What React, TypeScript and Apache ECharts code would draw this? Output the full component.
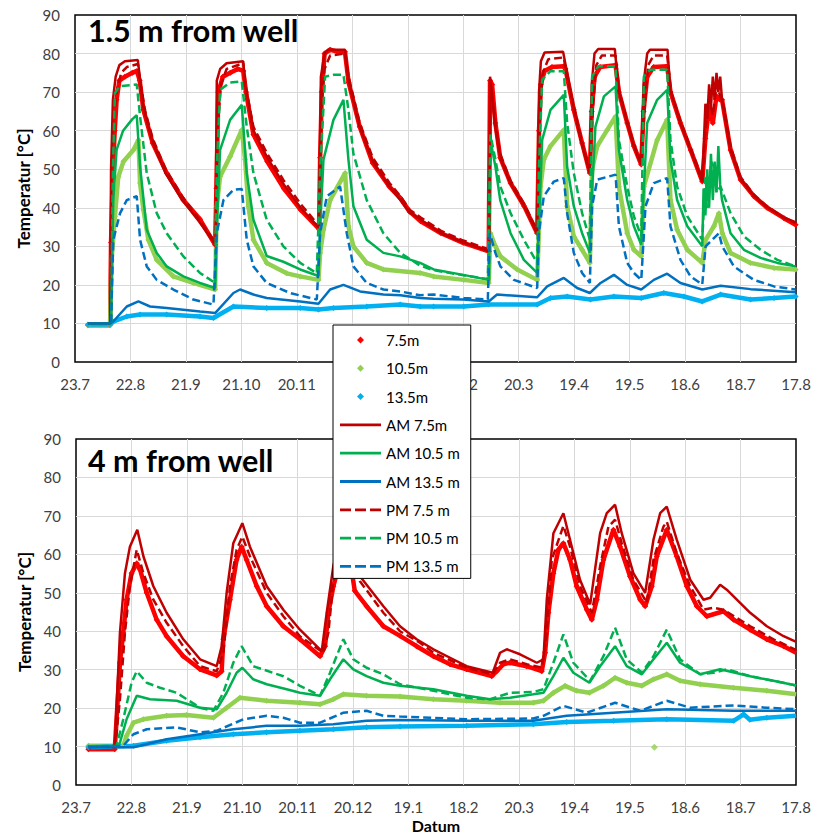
import React, { useEffect, useRef } from 'react';
import * as echarts from 'echarts';

// ---------- axis labels ----------
const xTickLabels = ['23.7', '22.8', '21.9', '21.10', '20.11', '20.12', '19.1', '18.2', '20.3', '19.4', '19.5', '18.6', '18.7', '17.8'];
// tick labels of the upper panel that the legend box covers completely
const topHiddenTicks = ['20.12', '19.1'];
const panelTitles = ['1.5 m from well', '4 m from well'];
const seriesNames = ['7.5m', '10.5m', '13.5m', 'AM 7.5m', 'AM 10.5 m', 'AM 13.5 m', 'PM 7.5 m', 'PM 10.5 m', 'PM 13.5 m'];

// x = days since 23.7 (one tick = 30 days), y = temperature °C
// ---------- TOP PANEL: 1.5 m from well ----------
const topMeas75 = [[7,9.5],[19,9.5],[19.5,31],[20.5,50],[21.5,60],[22.5,68],[24,73],[27,74],[31,75],[33.5,75.5],[35,73],[37,65.4],[42,56.8],[49.6,49],[58.6,42],[67.6,37],[75.8,30.4],
[76.5,45],[77.5,70],[80,74],[84,75],[88,76],[91,75.5],[92.5,70],[96.5,59],[104,52],[113,45],[122,39.5],[132,34.5],
[132.6,53],[133.5,70],[135,80],[138,81],[142,80.5],[146,80.5],[148,72.5],[154,61],[161,51.6],[170,45.5],[176,42.5],[181,39],[187,36.5],[198,33.4],[210,30.9],[223.8,28.7],
[224.5,73],[225.6,72],[227.4,62],[230,53],[235.6,46.4],[243,40.4],[250,33.4],
[251,60],[252,72],[254,75.5],[258,76.5],[264.4,76.7],[265.3,76],[269.8,65.4],[274.3,56.8],[278.5,49],
[279.5,65],[281,74],[284,76.5],[292.4,77],[294.2,70],[298.7,62],[302.3,56],[306.3,51.2],
[307.5,65],[309.5,74],[313,76.5],[320.3,76.7],[322.1,70],[327.5,62],[333,55],[339.3,46.8],
[341,58],[343,66],[345,62],[347,69],[349,68],[350,68],[354.6,55],[360,47.3],[367.2,43],[374.4,40],[383.5,37.3],[389.8,35.6]];

const topMeas105 = [[7,9.5],[19,9.5],[19.8,26.5],[21.6,37.8],[23.4,48],[26.2,52],[31.6,55],[34.3,57.6],[35.2,46.4],[37,39.5],[39.7,31.7],[44.2,26.5],[53.2,22.2],[64,20.5],[75.8,18.8],
[76.7,40.4],[78.5,48.1],[83.9,53.3],[90.2,60.2],[92,52.5],[93.8,40.4],[96.5,31.7],[103.7,25.7],[114.5,23],[121.8,22.2],[131.7,21.3],
[132.6,28.3],[134.4,34.3],[138,42],[146.1,49],[147.9,35.2],[150.6,30],[157.8,25.7],[166.8,24],[186.7,23.1],[194,22.2],[210.3,21.3],[223.8,20.5],
[224.7,33.4],[227.4,30],[230.1,27.4],[239.2,24],[250,21.3],
[251.8,45.5],[253.6,52.5],[257.2,56],[264.4,60.2],[266.2,40.4],[269.8,32.6],[274.3,29.1],[278.5,25.7],
[279.7,49.9],[282.5,56],[287.9,60.2],[292.4,63.7],[294.2,45.5],[298.7,33.4],[302.3,29.1],[306.3,27.4],
[307.7,45.5],[314.9,57.6],[320.3,62.8],[322.1,42],[325.7,34.3],[331.2,29.1],[339.3,25.7],
[341.1,31.7],[345.6,35.2],[348.3,38.6],[350.1,33.4],[354.6,28.3],[365.4,25.7],[378.1,24.4],[389.8,24]];

const topMeas135 = [[7,9.7],[18.9,9.7],[20.7,10.5],[28,11.8],[35.2,12.3],[49.6,12.3],[67.6,11.8],[74.9,11.4],[85.7,14.4],[103.7,14],[121.8,14],[131.7,13.6],[139.8,14],[157.8,14.4],[175.9,14.9],[186.7,14.4],[194,14.4],[210.3,14.4],[223.8,14.9],[250,14.9],[257.2,16.6],[266.2,17],[278.8,16.2],[291.5,17],[306.3,16.6],[318.5,17.9],[329.4,17],[339.3,15.7],[349.2,17.5],[365.4,16.2],[378.1,16.6],[389.8,17]];

const topAM75 = [[7,10],[19,10],[19.5,50],[20.5,68],[22,74],[24,77],[27,78],[34,78.3],[35,74],[37,66],[42,57],[49,49],[58,42],[67,36.5],[76,30.5],
[76.7,73],[78.5,76],[82,77.5],[91,78],[92,72],[96.5,60],[104,53],[113,46],[122,40],[132,34.7],
[133,74],[135,80],[137,81],[146,81],[148,73],[154,61],[161,52],[170,45.5],[176,42],[181,38.8],[187,36.9],[198,33.4],[210,31],[224,28.7],
[224.5,74],[225.5,70],[227,62],[230,53],[235.6,46.4],[243,40.4],[250,33.4],
[251,70],[252,78],[254,80.3],[264,80.5],[265.5,76.7],[270,65.4],[274,56.8],[278.5,49],
[279.5,72],[281,80],[283,81.2],[292,81.2],[294,70.6],[298.7,62],[302.3,56],[306.3,51.2],
[307.5,72],[309.5,80],[311,81],[320.5,81],[322,70.6],[327.5,62],[333,55],[339.3,46.8],
[340,55],[341,67],[342,63],[343,72],[344,66],[345,74],[346,68],[347,75],[348,70],[349,74],[350,68],[354.6,55],[360,47.5],[367,43.2],[374,40.3],[383,37.6],[390,36.2]];

const topAM105 = [[7,10],[19.5,10],[20.7,42],[22.5,55],[26,60],[31,63],[33.4,64],[35.2,50.7],[38.8,34.3],[44.2,28.3],[49.6,24.8],[58.6,22.2],[67.6,20.5],[75.8,19.2],
[76.7,35],[78.5,55],[83.9,62.8],[90.2,66.7],[92.9,49],[96.5,36.9],[103.7,27.5],[112.7,26],[121.8,24],[131.7,22.3],
[132.6,35],[134.4,52.5],[139.8,62.8],[145.2,68],[147.9,52.5],[150.6,40.4],[157.8,31.7],[166.8,28.3],[175.9,27.4],[186.7,25.7],[194,24],[210,22.6],[224,21.3],
[224.7,57.6],[227.4,50.7],[230,42],[235.6,33.4],[242.8,26.5],[250,23.1],
[250.9,35],[252.7,57.6],[257.2,65.4],[264.4,69.3],[266.2,50.7],[269.8,40.4],[274.3,33.4],[278.5,28.3],
[279.2,40],[281.5,61],[286.1,68.9],[292.4,71.5],[294.2,55],[298.7,42],[302.3,35.2],[306.3,30.4],
[307.2,40],[309.5,62],[314.9,68],[320.3,70.6],[322.1,52.5],[325.7,42],[331.2,35.2],[339.3,30],
[340,45],[341,38],[342,50],[343,40],[344,54],[345,42],[346,52],[347,44],[348,56],[349,46],[350,42],[354.6,33.4],[361.8,29.1],[370.8,27],[379.9,25.7],[389.8,24.8]];

const topAM135 = [[7,10],[19,10],[20.7,10.5],[28,14.4],[34.3,15.7],[40.6,14.4],[49.6,14],[67.6,13.1],[75.8,12.7],
[85.7,17.9],[89.3,18.8],[96.5,17.5],[103.7,16.6],[121.8,15.7],[131.7,15.1],
[138,18.8],[145.2,20],[154.2,18.3],[166.8,17.5],[176,17.3],[186.7,16.6],[194,16.4],[210,16.2],[223.8,15.7],
[228.3,17.5],[250,16.8],[255.4,19.6],[264.4,21.8],[271.6,19.2],[278.5,17.9],
[284.3,20.5],[291.5,22.6],[298.7,20],[306.3,18.8],[313.1,21.3],[320.3,22.9],[327.5,20.5],[339.3,18.8],
[349.2,19.8],[365.4,18.9],[389.8,18.1]];

const topPM75 = [[7,10],[19.3,10],[20,45],[21,62],[22.5,70],[25,75],[28,76.5],[34,77.3],[35.5,72],[38,65],[42,58],[49,50],[58,43],[67,37],[76,31],
[77,60],[79,72],[82,76],[91,77.5],[92.5,71],[96.5,61],[104,54],[113,47],[122,41],[132,35.3],
[133,65],[135,76],[138,79.5],[146,80],[148,74],[154,62],[161,53],[170,46.5],[176,43],[181,39.5],[187,37.5],[198,34],[210,31.5],[224,29.2],
[224.7,70],[226,68],[228,60],[230,54],[235.6,47],[243,41],[250,34],
[251.5,65],[253,75],[256,78.5],[264.4,79],[266,74],[270,66],[274,57.5],[278.5,49.5],
[280,65],[282,77],[285,79.5],[292.4,79.5],[294.5,70],[298.7,62.5],[302.3,56.5],[306.3,51.5],
[308,65],[310,77],[313,79.5],[320.3,79.5],[322.5,70],[327.5,62.5],[333,55.5],[339.3,47.5],
[341,60],[343,68],[345,64],[347,72],[349,69],[351,66],[354.6,56],[360,48],[367,43.5],[374,40.5],[383,37.5],[390,36]];

const topPM105 = [[7,10],[19.5,10],[20.5,50],[21.6,69.7],[24,71.5],[33.4,72],[35.2,63.7],[38.8,49],[44.2,38.6],[49.6,33.4],[58.6,27.4],[67.6,23.1],[75.8,20.5],
[76.7,50],[78.5,70.6],[83.9,72.5],[90.2,72.8],[92.9,61],[96.5,49],[103.7,36.9],[112.7,30],[121.8,25.7],[130.8,23],
[132.6,50],[135.3,74],[140,74.5],[145.2,74.5],[147.9,65.4],[150.6,54],[157.8,42],[166.8,33.4],[175.9,28.3],[186.7,25],[194,23.8],[210,22.5],[223.3,21.5],
[224.7,59],[227.4,52.5],[230.1,45.5],[235.6,38.6],[242.8,31.7],[250,25.7],
[250.9,50],[252.7,73.2],[257,75.4],[264.4,75.4],[266.2,62],[269.8,49],[274.3,38.6],[278.5,31.7],
[279.7,74],[283,76.7],[292.4,76.7],[294.2,57.6],[298.7,45.5],[302.3,37.8],[306.3,32.6],
[307.7,74],[311,75.8],[320.3,75.8],[322.1,57.6],[325.7,45.5],[331.2,37.8],[339.3,31.7],
[341,48],[342.5,40],[344,52],[345.6,50.7],[347,44],[349.2,45.5],[354.6,38.6],[361.8,32.6],[370.8,29.1],[379.9,26.5],[389.8,24.8]];

const topPM135 = [[7,10],[19.5,10],[20.7,31.7],[24.4,38.6],[28,42],[33.4,43],[35.2,31.7],[38.8,24.8],[44.2,21.3],[53.2,18.8],[64,16.2],[74.9,14.9],
[76.7,33.4],[80.3,42],[85.7,44.7],[90.2,44.9],[92.9,31.7],[96.5,24.8],[103.7,20.5],[116.3,17.9],[130.8,16.2],
[132.6,33.4],[136.2,43],[143.4,45.5],[147,33.4],[150.6,24.8],[157.8,20.5],[166.8,18.8],[176,18.3],[186.7,17.3],[194,17.5],[210.3,16.6],[223.3,16.2],
[224.4,33.4],[227.4,28.3],[230.1,24.8],[237.4,21.3],[250,19.2],
[250.9,33.4],[253.6,43],[259,46.8],[264.4,47.7],[266.2,38.6],[269.8,28.3],[274.3,23.1],[278.5,20.5],
[279.7,40.4],[282.5,47.3],[292.4,48.6],[294.2,35.2],[298.7,25.7],[302.3,23.1],[306.3,21.3],
[308.6,40.4],[313.1,46.4],[320.3,47.7],[322.1,35.2],[327.5,26.5],[333,22.2],[339.3,20.1],
[341.1,30],[348.3,33.4],[350.1,30],[356.4,24.8],[367.2,21.3],[378.1,19.6],[389.8,18.8]];

// ---------- BOTTOM PANEL: 4 m from well ----------
const botMeas75 = [[6.7,9.3],[21,9.3],[23.8,31.8],[25.6,39.6],[27.4,48.2],[30.1,55.1],[32.9,57.7],[34.7,56],[38.3,50],[43.7,43],[49.1,38.7],[58.1,33.5],[67.2,30.1],[76.2,28.5],[78.9,29.6],
[79.8,37.9],[83.4,48.2],[87,58.6],[89.7,62],[92.4,58.6],[97.9,51.7],[103.3,46.5],[112.3,41.3],[121.3,37.9],[132.2,33.5],
[134.9,36.1],[136.7,44.8],[139.4,51.7],[143,58],[146,61.5],[148,60],[151,50.5],[157.4,46.5],[166.5,41.3],[175.5,38.8],[184.5,36.1],[193.6,33.5],[202.6,31.4],[211.6,30.1],[225.2,28.3],
[227.9,29.6],[231.5,31.4],[235.1,31.8],[244.1,30.9],[252.3,29.6],[254.1,34.4],[255.9,44.8],[258.6,55.1],[261.3,61.2],[264,62.9],[267.6,58.6],[271.2,51.7],[276.7,45.6],[279.4,43],
[282.1,48.2],[285.7,58.6],[291.1,66.4],[294.7,62],[300.1,54.3],[305.6,48.2],[308.3,46.5],[311.9,51.7],[314.6,59.5],[320,66.4],[325.4,59.5],[330.9,51.7],[336.3,46.5],[341.7,43.9],
[350.7,45.2],[356.2,43],[365.2,40.4],[374.2,37.9],[383.3,36.1],[390.1,34.4]];

const botMeas105 = [[6.7,10.2],[25.6,10.2],[27.4,12.8],[31.1,16.2],[36.5,17.1],[49.1,18],[59.9,18.2],[74.4,17.5],[81.6,20.1],[88.8,22.7],[103.3,21.9],[121.3,21.4],[132.2,21],[139.4,22.3],[144.8,23.6],[157.4,23.2],[175.5,23],[193.6,22.3],[211.6,21.9],[229.7,21.4],[247.7,21.4],[253.2,21.9],[258.6,24],[264.9,25.8],[271.2,24.5],[278.1,24],[285.7,25.8],[292,27.9],[298.3,26.6],[306.5,25.8],[312.8,27.5],[320,28.8],[327.2,27.1],[338.1,26.2],[356.2,25.3],[374.2,24.5],[390.1,23.6]];
const botMeas105Outlier = [[313.3, 9.8]];

const botMeas135 = [[6.7,9.8],[31.1,10.2],[49.1,11.5],[67.2,12.4],[85.2,13.2],[103.3,13.7],[121.3,14.1],[139.4,14.5],[157.4,15],[175.5,15.2],[211.6,15.4],[247.7,15.8],[265.8,16.4],[291.1,16.7],[320,17.1],[356.2,16.7],[361.6,18.4],[365,17],[374.2,17.5],[390.1,18]];

const botAM75 = [[6.7,10],[20.2,10],[21.1,11],[23.8,39.6],[26.5,55],[29.2,62],[33.2,66.4],[36.5,59.5],[41.9,51.7],[49.1,44.8],[58.1,37.9],[67.2,32.7],[76.2,30.9],
[78.9,36.1],[81.6,50],[85.2,62.9],[90.1,68.1],[94.2,62],[103.3,51.7],[112.3,45.6],[121.3,40.4],[133.1,34.8],
[135.8,44.8],[139.4,57],[143,64],[145.5,67],[147.5,65.5],[153.8,54.3],[166.5,46.5],[175.5,41.3],[184.5,37.9],[193.6,35.3],[202.6,33.1],[211.6,30.9],[225.7,29.2],
[229.7,34.4],[233.3,35.3],[240.5,34],[249.6,31.8],[253.2,32.7],[255,48.2],[258.6,65.5],[264,70.7],[267.6,63.8],[273,53.4],[278.5,47],
[283.9,65.5],[287.5,70.7],[292,72.9],[295.6,65.5],[301.9,55.1],[308.3,50],[312.8,63.8],[316.4,70.7],[320,72.4],[325.4,63.8],[332.7,53.4],[339.9,48.2],
[343.5,48.7],[348.9,52.1],[352.5,50.8],[365.2,44.8],[374.2,41.3],[383.3,38.7],[390.1,37.2]];

const botAM105 = [[6.7,10],[22,10],[23.8,11],[27.4,17.1],[32.9,23.2],[40.1,22.3],[54.5,21.9],[67.2,20.1],[76.2,19.7],[81.6,24],[87,29.2],[90.1,30.5],[96,27.5],[103.3,26.2],[114.1,24.9],[121.3,24],[132.2,23.2],[137.6,27.5],[144.8,32.7],[150.2,30.1],[157.4,28.3],[166.5,26.6],[175.5,25.8],[193.6,24.9],[211.6,23.2],[224.3,22.3],[235.1,22.7],[247.7,23.6],[253.2,24],[258.6,28.3],[264,33.1],[269.4,29.2],[278.1,26.6],[283.9,30.9],[292,36.1],[298.3,30.9],[306.5,28.8],[312.8,32.7],[320,37],[327.2,31.8],[338.1,28.8],[348.9,30.1],[365.2,28.3],[377.8,27.1],[390.1,25.9]];

const botAM135 = [[6.7,9.8],[31.1,9.8],[34.7,10.2],[49.1,11.9],[67.2,13.2],[85.2,14.5],[103.3,15.4],[121.3,15.4],[139.4,15.8],[157.4,16.7],[175.5,16.9],[211.6,16.7],[247.7,16.7],[265.8,18],[291.1,18.8],[320,19.7],[356.2,19.3],[390.1,19.3]];

const botPM75 = [[6.7,10],[21,10],[22,13.7],[23.8,22.3],[26.5,39.6],[29.2,51.7],[32.9,61.2],[36.5,55.1],[41.9,48.2],[49.1,42.2],[58.1,36.1],[67.2,30.9],[76.2,29.6],
[79.8,34.4],[83.4,51.7],[87,61.2],[90.1,64.6],[94.2,59.5],[103.3,50],[112.3,43.9],[121.3,38.7],[134,34.4],
[136.7,39.6],[139.4,53],[143,60],[146,63.5],[148,62],[153.8,53],[166.5,44.8],[175.5,40],[186.3,37],[193.6,34.4],[211.6,30.5],[225.7,28.8],
[229.7,31.8],[235.1,32.7],[244.1,31.4],[252.3,30.5],[255,39.6],[257.7,58.6],[264,67.4],[267.6,62],[273,51.7],[279.4,44.8],
[283.9,56.9],[288.4,67.2],[292,69],[295.6,62.9],[301.9,53.4],[309.2,47.4],[312.8,58.6],[318.2,67.2],[320,68.5],[325.4,60.3],[332.7,51.7],[339.9,45.6],
[345.3,46.1],[350.7,45.6],[365.2,41.3],[377.8,37.9],[390.1,35.1]];

const botPM105 = [[6.7,10],[22,10.2],[25.6,17.1],[30.1,26.6],[32.9,29.6],[38.3,26.6],[45.5,25.3],[54.5,24],[67.2,20.1],[74.4,19.3],[79.8,24],[85.2,31.8],[89.7,36.1],[96,30.9],[112.3,28.3],[121.3,25.8],[132.2,23.2],[137.6,29.2],[144.8,37.9],[150.2,32.7],[157.4,30.5],[166.5,28.8],[175.5,26.2],[193.6,24.5],[211.6,22.7],[224.3,22.3],[235.1,24],[247.7,24.2],[253.2,24.9],[258.6,31.8],[264,39.2],[269.4,31.8],[278.5,27.1],[285.7,33.5],[292,40.9],[298.3,32.7],[306.5,29.2],[312.8,33.5],[320,40.4],[327.2,32.7],[338.1,28.8],[345.3,29.2],[352.5,30.1],[365.2,28.3],[377.8,27.1],[390.1,25.9]];

const botPM135 = [[6.7,9.8],[25.6,10.2],[31.1,13.2],[38.3,14.5],[54.5,15],[67.2,13.7],[76.2,14.1],[90.6,17.1],[103.3,18],[112.3,17.5],[121.3,16.2],[132.2,16.2],[144.8,18.8],[157.4,19.3],[166.5,18],[175.5,17.8],[211.6,17.1],[247.7,17.3],[253.2,18],[264,20.6],[276.7,18.8],[292,21.4],[305.6,19.3],[320,21.9],[332.7,20.1],[356.2,20.7],[374.2,20.1],[390.1,19.7]];

// ---------- styling ----------
const FONT = 'Lato, "Open Sans", "Liberation Sans", sans-serif';
const C = {
  m75: '#FF0000', m105: '#92D050', m135: '#00B0F0',
  s75: '#C00000', s105: '#00B050', s135: '#0070C0',
};
const ICON_DIAMOND = 'path://M0,0M41,14M20.5,3.5L24,7L20.5,10.5L17,7Z';
const ICON_SOLID = 'path://M0,0M41,14M0,5.6H41V8.4H0Z';
const ICON_DASH = 'path://M0,0M41,14M0,5.6H11V8.4H0ZM15,5.6H26V8.4H15ZM30,5.6H41V8.4H30Z';

function measured(name: string, data: number[][], color: string, idx: number) {
  return {
    type: 'line', name, data, xAxisIndex: idx, yAxisIndex: idx,
    symbol: 'diamond', symbolSize: 6, showSymbol: true,
    itemStyle: { color }, lineStyle: { color, width: 4.5 },
    z: 2,
  };
}
function modelLine(name: string, data: number[][], color: string, idx: number, dashed: boolean) {
  return {
    type: 'line', name, data, xAxisIndex: idx, yAxisIndex: idx,
    symbol: 'none', showSymbol: false,
    itemStyle: { color },
    lineStyle: { color, width: 2.5, type: dashed ? [8, 4] : 'solid' },
    z: dashed ? 4 : 3,
  };
}

function panelSeries(idx: number, d: number[][][]) {
  return [
    measured(seriesNames[0], d[0], C.m75, idx),
    measured(seriesNames[1], d[1], C.m105, idx),
    measured(seriesNames[2], d[2], C.m135, idx),
    modelLine(seriesNames[3], d[3], C.s75, idx, false),
    modelLine(seriesNames[4], d[4], C.s105, idx, false),
    modelLine(seriesNames[5], d[5], C.s135, idx, false),
    modelLine(seriesNames[6], d[6], C.s75, idx, true),
    modelLine(seriesNames[7], d[7], C.s105, idx, true),
    modelLine(seriesNames[8], d[8], C.s135, idx, true),
  ];
}

function xAxis(idx: number, withName: boolean) {
  return {
    type: 'value', gridIndex: idx, min: 0, max: 390, interval: 30,
    axisLine: { show: false }, axisTick: { show: false },
    splitLine: { show: true, showMinLine: false, showMaxLine: false, lineStyle: { color: '#D9D9D9', width: 1 } },
    axisLabel: {
      margin: 14, fontSize: 15, color: '#404040', fontFamily: FONT,
      formatter: (v: number) => {
        const t = xTickLabels[Math.round(v / 30)] ?? '';
        return idx === 0 && topHiddenTicks.includes(t) ? '' : t;
      },
    },
    name: withName ? 'Datum' : '',
    nameLocation: 'middle', nameGap: 32,
    nameTextStyle: { fontSize: 16, fontWeight: 'bold', color: '#000', fontFamily: FONT },
  };
}
function yAxis(idx: number) {
  return {
    type: 'value', gridIndex: idx, min: 0, max: 90, interval: 10,
    axisLine: { show: false }, axisTick: { show: false },
    splitLine: { show: true, showMinLine: false, showMaxLine: false, lineStyle: { color: '#D9D9D9', width: 1 } },
    axisLabel: { margin: 15, fontSize: 15, color: '#404040', fontFamily: FONT },
    name: 'Temperatur [°C]', nameLocation: 'middle', nameGap: 38,
    nameTextStyle: { fontSize: 17, fontWeight: 'bold', color: '#000', fontFamily: FONT },
  };
}

export default function App() {
  const ref = useRef<HTMLDivElement>(null);
  useEffect(() => {
    if (!ref.current) return;
    const chart = echarts.init(ref.current, undefined, { renderer: 'svg' });
    const legendColors = [C.m75, C.m105, C.m135, C.s75, C.s105, C.s135, C.s75, C.s105, C.s135];
    const legendIcons = [ICON_DIAMOND, ICON_DIAMOND, ICON_DIAMOND, ICON_SOLID, ICON_SOLID, ICON_SOLID, ICON_DASH, ICON_DASH, ICON_DASH];
    chart.setOption({
      animation: false,
      backgroundColor: '#fff',
      textStyle: { fontFamily: FONT },
      title: [
        { text: panelTitles[0], left: 88, top: 14, padding: 0, textStyle: { fontSize: 30.5, fontWeight: 'bold', color: '#000', fontFamily: FONT } },
        { text: panelTitles[1], left: 88, top: 444, padding: 0, textStyle: { fontSize: 30.5, fontWeight: 'bold', color: '#000', fontFamily: FONT } },
      ],
      grid: [
        { left: 75, top: 15, width: 721, height: 347, show: true, borderColor: '#000', borderWidth: 1.5, backgroundColor: 'transparent' },
        { left: 76, top: 439, width: 720, height: 347, show: true, borderColor: '#000', borderWidth: 1.5, backgroundColor: 'transparent' },
      ],
      xAxis: [xAxis(0, false), xAxis(1, true)],
      yAxis: [yAxis(0), yAxis(1)],
      legend: {
        orient: 'vertical', left: 333, top: 325,
        padding: [6, 11, 3, 7],
        itemWidth: 41, itemHeight: 14, itemGap: 10.3, itemTextGap: 2,
        itemStyle: { borderWidth: 0 },
        textStyle: { fontSize: 15, color: '#000', fontFamily: FONT, lineHeight: 18 },
        backgroundColor: '#fff', borderColor: '#000', borderWidth: 1, borderRadius: 0,
        z: 20,
        data: seriesNames.map((n, i) => ({ name: n, icon: legendIcons[i], itemStyle: { color: legendColors[i], borderWidth: 0 } })),
      },
      series: [
        ...panelSeries(0, [topMeas75, topMeas105, topMeas135, topAM75, topAM105, topAM135, topPM75, topPM105, topPM135]),
        ...panelSeries(1, [botMeas75, botMeas105, botMeas135, botAM75, botAM105, botAM135, botPM75, botPM105, botPM135]),
        {
          type: 'scatter', name: seriesNames[1], data: botMeas105Outlier, xAxisIndex: 1, yAxisIndex: 1,
          symbol: 'diamond', symbolSize: 7, itemStyle: { color: C.m105 }, z: 2,
        },
      ],
    });
    return () => chart.dispose();
  }, []);
  return <div ref={ref} style={{ position: 'absolute', left: 0, top: 0, width: 815, height: 834 }} />;
}
